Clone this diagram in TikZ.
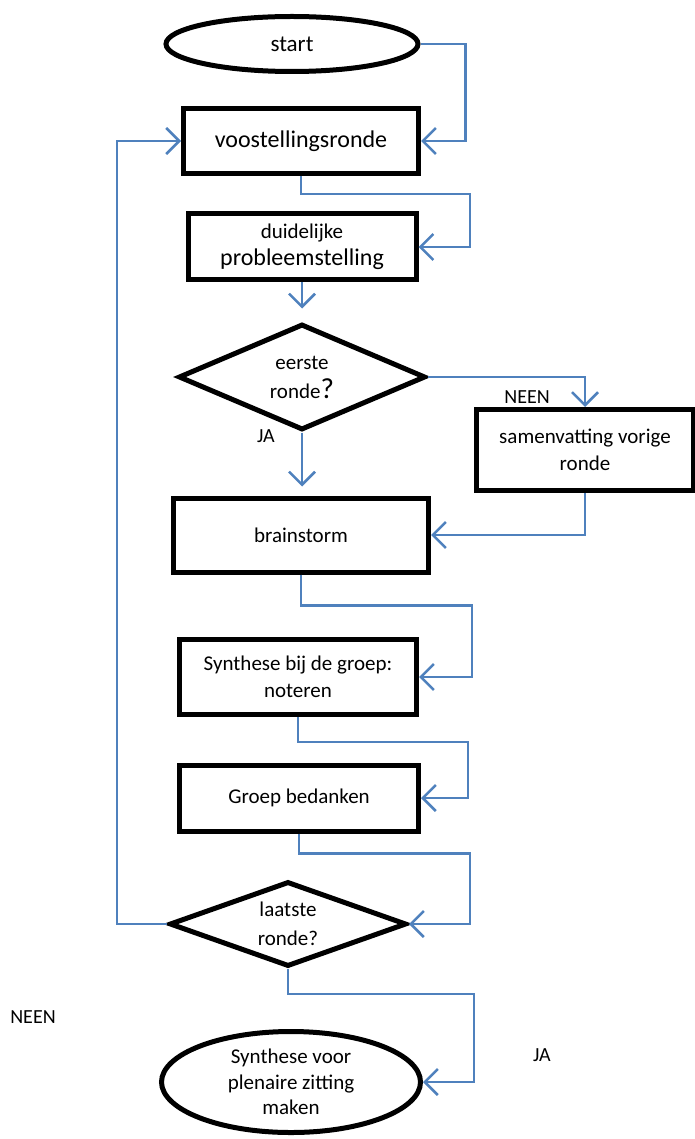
\documentclass[tikz,border=0pt]{standalone}
\usepackage{fontspec}
\setmainfont{Carlito}
\usetikzlibrary{positioning, calc, arrows.meta, shapes.geometric}
\definecolor{FlowBlue}{HTML}{4F81BD}

\begin{document}
\begin{tikzpicture}[
  x=1pt, y=-1pt,
  terminal/.style={ellipse, draw=black, line width=5pt, inner sep=0pt, align=center, font=\fontsize{21}{25.5}\selectfont},
  process/.style={rectangle, draw=black, line width=5pt, inner sep=0pt, align=center, font=\fontsize{21}{27}\selectfont},
  decision/.style={diamond, draw=black, line width=5pt, inner sep=0pt, align=center, aspect=2.3, font=\fontsize{21}{29}\selectfont},
  lbl/.style={inner sep=0pt, font=\fontsize{20}{24}\selectfont},
  arr/.style={-{Straight Barb[length=13pt,width=26pt]}, line width=2.5pt, FlowBlue},
]
\useasboundingbox (0,0) rectangle (694,1139);

\node[terminal, minimum width=252, minimum height=55] (start) at (292,44) {\fontsize{23}{27}\selectfont start};
\node[process, minimum width=235, minimum height=65] (voost) at (301,141) {\fontsize{24}{28}\selectfont voostellingsronde};
\node[process, minimum width=228, minimum height=66] (duid) at (302,247) {duidelijke\\\fontsize{24}{28}\selectfont probleemstelling};
\node[decision, minimum width=247, minimum height=106] (dia1) at (302,377) {eerste\\ronde{\fontsize{29}{29}\selectfont ?}};
\node[process, minimum width=217, minimum height=81] (samen) at (585,450) {samenvatting vorige\\ronde};
\node[process, minimum width=255, minimum height=74] (brain) at (301,535) {brainstorm};
\node[process, minimum width=237, minimum height=75] (synth) at (298,677) {Synthese bij de groep:\\noteren};
\node[process, minimum width=239, minimum height=66] (groep) at (299,798) {Groep bedanken};
\node[decision, minimum width=237, minimum height=85] (dia2) at (288,924) {laatste\\ronde?};
\node[terminal, minimum width=259, minimum height=101] (endn) at (291,1082) {Synthese voor\\plenaire zitting\\maken};

\node[lbl] (neen1) at (527,397) {NEEN};
\node[lbl] (ja1) at (266,436) {JA};
\node[lbl] (neen2) at (33,1017) {NEEN};
\node[lbl] (ja2) at (542,1055) {JA};

\draw[arr] (start.east) -- ++(45,0) |- (voost.east);
\draw[arr] (voost.south) -- ++(0,18) -- ++(169,0) |- (duid.east);
\draw[arr, shorten >=13pt] (duid.south) -- (dia1.north);
\draw[arr] (dia1.east) -| (samen.north);
\draw[arr, shorten >=9pt] (dia1.south) -- (dia1.south |- brain.north);
\draw[arr] (samen.south) |- (brain.east);
\draw[arr] (brain.south) -- ++(0,31) -- ++(171,0) |- (synth.east);
\draw[arr] (synth.south) -- ++(0,25) -- ++(170,0) |- (groep.east);
\draw[arr] (groep.south) -- ++(0,20) -- ++(171,0) |- (dia2.east);
\draw[arr] (dia2.west) -- ++(-50,0) |- (voost.west);
\draw[arr] (dia2.south) -- ++(0,25) -- ++(186,0) |- (endn.east);

\end{tikzpicture}
\end{document}
